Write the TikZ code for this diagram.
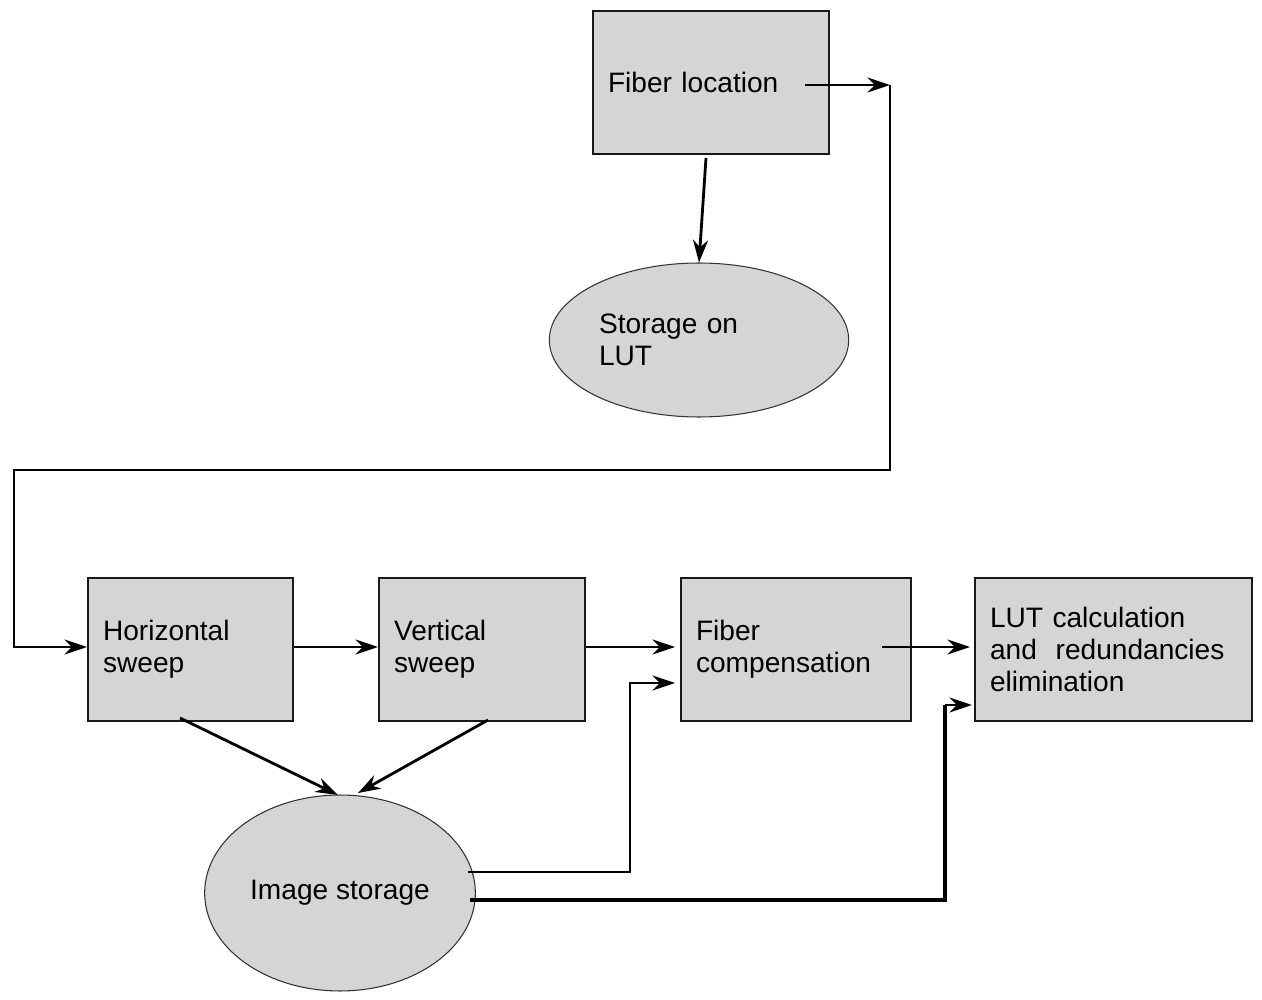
\documentclass[tikz,border=0pt]{standalone}
\usepackage{fontspec}
\setmainfont{Liberation Sans}
\usetikzlibrary{shapes.geometric,arrows.meta}
\begin{document}
\begin{tikzpicture}[x=0.02cm,y=-0.02cm,
  box/.style={draw=black!90,line width=1.2pt,fill=gray!33,inner xsep=0.3cm,align=left,font=\fontsize{16}{18}\selectfont,anchor=north west},
  ell/.style={draw=black!80,line width=0.6pt,fill=gray!33,ellipse,align=left,font=\fontsize{16}{18}\selectfont},
  thick/.style={line width=1.6pt,-{Stealth[length=0.45cm,width=0.3cm]}},
  thin/.style={line width=0.9pt,-{Stealth[length=0.45cm,width=0.3cm]}}]
\useasboundingbox (0,0) rectangle (1262,1000);
\node[box,minimum width=4.72cm,minimum height=2.86cm,text width=4.12cm] (fl) at (592,10) {Fiber location};
\node[ell,minimum width=5.16cm,minimum height=3.08cm,text width=4cm] (st) at (699,340) {Storage on\\LUT};
\node[box,minimum width=4.1cm,minimum height=2.86cm,text width=3.5cm] (hs) at (87,577) {Horizontal\\sweep};
\node[box,minimum width=4.12cm,minimum height=2.86cm,text width=3.52cm] (vs) at (378,577) {Vertical\\sweep};
\node[box,minimum width=4.6cm,minimum height=2.86cm,text width=4.0cm] (fc) at (680,577) {Fiber\\compensation};
\node[box,minimum width=5.54cm,minimum height=2.86cm,text width=4.94cm,inner ysep=0.3cm] (lut) at (974,577) {LUT calculation\\and\ \ redundancies\\elimination};
\node[ell,minimum width=5.08cm,minimum height=3.92cm] (im) at (340,893) {Image storage};
\coordinate (a1) at (805,85); \coordinate (a2) at (890,85);
\coordinate (b1) at (706,158);
\draw[thick] (a1) -- (a2);
\draw[line width=1.6pt] (a2) -- (890,470) -- (14,470) -- (14,647) -- (20,647);
\draw[thick] (20,647) -- (hs.west|-0,647);
\draw[thick] (b1) -- (st.north);
\draw[thick] (hs.east|-0,647) -- (vs.west|-0,647);
\draw[thin] (vs.east|-0,647) -- (675,647);
\coordinate (c1) at (882,647);
\draw[thin] (c1) -- (970,647);
\coordinate (h1) at (180,718); \coordinate (h2) at (338,795);
\coordinate (v1) at (488,720); \coordinate (v2) at (358,793);
\draw[thick] (h1) -- (h2);
\draw[thick] (v1) -- (v2);
\coordinate (i1) at (468,872); \coordinate (i2) at (470,900);
\draw[thin] (i1) -- (630,872) -- (630,683) -- (675,683);
\draw[line width=2.2pt] (i2) -- (945,900) -- (945,705);
\draw[thick] (945,705) -- (972,705);
\end{tikzpicture}
\end{document}
